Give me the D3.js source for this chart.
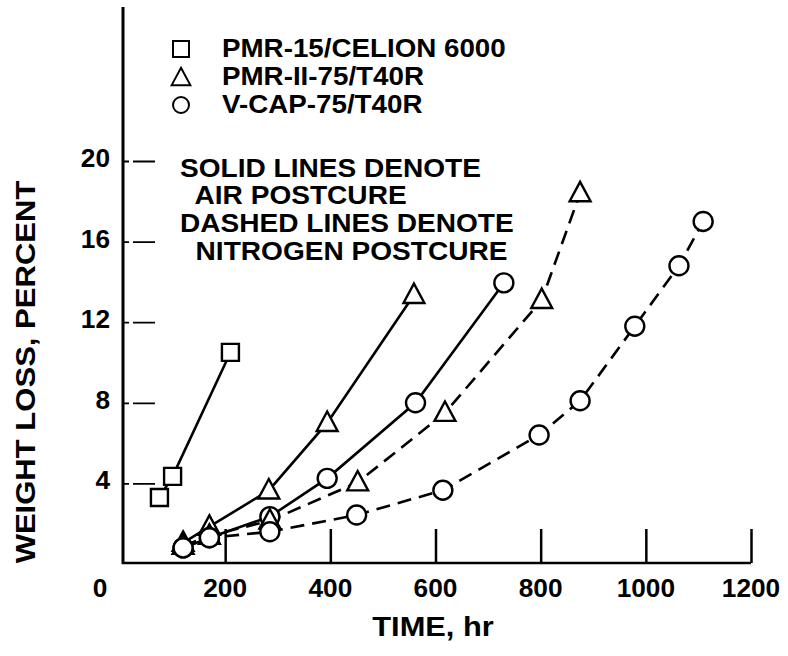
<!DOCTYPE html>
<html>
<head>
<meta charset="utf-8">
<script src="https://cdn.jsdelivr.net/npm/d3@7"></script>
<style>
  html, body { margin: 0; padding: 0; background: #fff; }
  svg { display: block; }
  text { font-family: "Liberation Sans", Arial, Helvetica, sans-serif; font-weight: bold; fill: #000; }
</style>
</head>
<body>
<svg id="chart" width="788" height="656"></svg>
<script>
// ---------------- DATA ----------------
const xTickValues = [200, 400, 600, 800, 1000, 1200];
const xTickLabels = ["200", "400", "600", "800", "1000", "1200"];
const yTickValues = [4, 8, 12, 16, 20];
const yTickLabels = ["4", "8", "12", "16", "20"];
const originLabel = "0";

const xTitle = "TIME, hr";
const yTitle = "WEIGHT LOSS, PERCENT";

const legendLabels = ["PMR-15/CELION 6000", "PMR-II-75/T40R", "V-CAP-75/T40R"];
const legendSymbols = ["square", "triangle", "circle"];
const noteLines = ["SOLID LINES DENOTE", "  AIR POSTCURE", "DASHED LINES DENOTE", "  NITROGEN POSTCURE"];

// PMR-15/Celion 6000, air postcure
const pmr15AirTime = [75, 100, 210];
const pmr15AirLoss = [3.3, 4.35, 10.5];
// PMR-II-75/T40R, air postcure
const pmr2AirTime = [120, 170, 283, 394, 559];
const pmr2AirLoss = [1.05, 1.85, 3.65, 7.0, 13.35];
// V-CAP-75/T40R, air postcure
const vcapAirTime = [120, 170, 285, 394, 562, 730];
const vcapAirLoss = [0.8, 1.3, 2.35, 4.25, 8.0, 13.95];
// PMR-II-75/T40R, nitrogen postcure
const pmr2N2Time = [120, 170, 285, 452, 618, 802, 875];
const pmr2N2Loss = [0.9, 1.4, 2.15, 4.05, 7.5, 13.1, 18.4];
// V-CAP-75/T40R, nitrogen postcure
const vcapN2Time = [120, 170, 285, 450, 614, 797, 875, 979, 1063, 1109];
const vcapN2Loss = [0.8, 1.3, 1.6, 2.43, 3.66, 6.4, 8.1, 11.8, 14.8, 17.0];

const series = [
  { time: pmr15AirTime, loss: pmr15AirLoss, symbol: "square", dashed: false },
  { time: pmr2AirTime, loss: pmr2AirLoss, symbol: "triangle", dashed: false },
  { time: vcapAirTime, loss: vcapAirLoss, symbol: "circle", dashed: false },
  { time: pmr2N2Time, loss: pmr2N2Loss, symbol: "triangle", dashed: true },
  { time: vcapN2Time, loss: vcapN2Loss, symbol: "circle", dashed: true }
];

// ---------------- LAYOUT ----------------
const svg = d3.select("#chart");
const x = d3.scaleLinear().domain([0, 1200]).range([120, 751]);
const y = d3.scaleLinear().domain([0, 20]).range([564, 161]);
const axisX = 123;       // drawn position of the vertical axis
const axisTop = 7;
const SX = 1.1;          // horizontal stretch of lettering

function stretchedText(g, str, px, py, size, anchor, sx) {
  sx = sx || SX;
  return g.append("text")
    .attr("transform", `translate(${px},${py}) scale(${sx},1)`)
    .attr("font-size", size)
    .attr("text-anchor", anchor || "start")
    .style("white-space", "pre")
    .text(str);
}

function symbolPath(kind, s) {
  if (kind === "square") {
    const h = s / 2;
    return `M${-h},${-h}H${h}V${h}H${-h}Z`;
  }
  if (kind === "triangle") {
    const w = s * 0.55, top = -s * 0.6, bot = s * 0.42;
    return `M0,${top}L${w},${bot}L${-w},${bot}Z`;
  }
  const r = s / 2;
  return `M${r},0A${r},${r} 0 1,1 ${-r},0A${r},${r} 0 1,1 ${r},0Z`;
}

// ---------------- AXES ----------------
const axes = svg.append("g");
axes.append("line")
  .attr("x1", axisX).attr("x2", axisX)
  .attr("y1", axisTop).attr("y2", y(0))
  .attr("stroke", "#000").attr("stroke-width", 3);
const xAxis = d3.axisTop(x).tickValues(xTickValues).tickSize(34).tickFormat("");
const xg = axes.append("g").attr("transform", `translate(0,${y(0) - 1})`).call(xAxis);
xg.select(".domain").attr("d", `M${axisX - 1},0H${x(1200)}`).attr("stroke-width", 2.5);
xg.selectAll(".tick line").attr("stroke-width", 2.5);

const yAxis = d3.axisRight(y).tickValues(yTickValues).tickSize(32).tickFormat("");
const yg = axes.append("g").attr("transform", `translate(${axisX},0)`).call(yAxis);
yg.select(".domain").remove();
yg.selectAll(".tick line").attr("stroke-width", 1.8).attr("stroke-dasharray", "6,4,22");

// tick labels
const labels = svg.append("g");
xTickValues.forEach((v, i) => {
  stretchedText(labels, xTickLabels[i], x(v), 597, 25, "middle", 1.05);
});
stretchedText(labels, originLabel, x(0) - 20, 597, 25, "middle", 1.05);
yTickValues.forEach((v, i) => {
  stretchedText(labels, yTickLabels[i], 110, y(v) + 6, 25, "end", 1.05);
});

// axis titles
stretchedText(labels, xTitle, 433, 636, 28, "middle");
labels.append("text")
  .attr("transform", `translate(35,372) rotate(-90) scale(1.15,1)`)
  .attr("font-size", 27)
  .attr("text-anchor", "middle")
  .text(yTitle);

// ---------------- LEGEND ----------------
const legend = svg.append("g");
const legendRowY = [57, 85, 113];
legendLabels.forEach((lab, i) => {
  const sym = legendSymbols[i];
  const cy = legendRowY[i] - 8;
  legend.append("path")
    .attr("d", symbolPath(sym, sym === "triangle" ? 17 : 16))
    .attr("transform", `translate(181,${sym === "triangle" ? cy + 1 : cy})`)
    .attr("fill", "#fff").attr("stroke", "#000").attr("stroke-width", 2);
  stretchedText(legend, lab, 222, legendRowY[i], 25, "start", 1.11);
});

// note text
const noteY = [177, 204, 232, 260];
noteLines.forEach((t, i) => {
  stretchedText(legend, t, 180, noteY[i], 26, "start", 1.08);
});

// ---------------- DATA MARKS ----------------
const plot = svg.append("g");
const line = d3.line().x(d => x(d[0])).y(d => y(d[1]));
series.forEach(s => {
  const pts = s.time.map((t, i) => [t, s.loss[i]]);
  plot.append("path")
    .attr("d", line(pts))
    .attr("fill", "none")
    .attr("stroke", "#000")
    .attr("stroke-width", 2.6)
    .attr("stroke-dasharray", s.dashed ? "14,8" : null);
});
series.forEach(s => {
  const pts = s.time.map((t, i) => [t, s.loss[i]]);
  const size = s.symbol === "square" ? 17 : 19;
  plot.selectAll(null).data(pts).enter().append("path")
    .attr("d", symbolPath(s.symbol, size))
    .attr("transform", d => `translate(${x(d[0])},${y(d[1])})`)
    .attr("fill", "#fff")
    .attr("stroke", "#000")
    .attr("stroke-width", 2.4);
});
</script>
</body>
</html>
